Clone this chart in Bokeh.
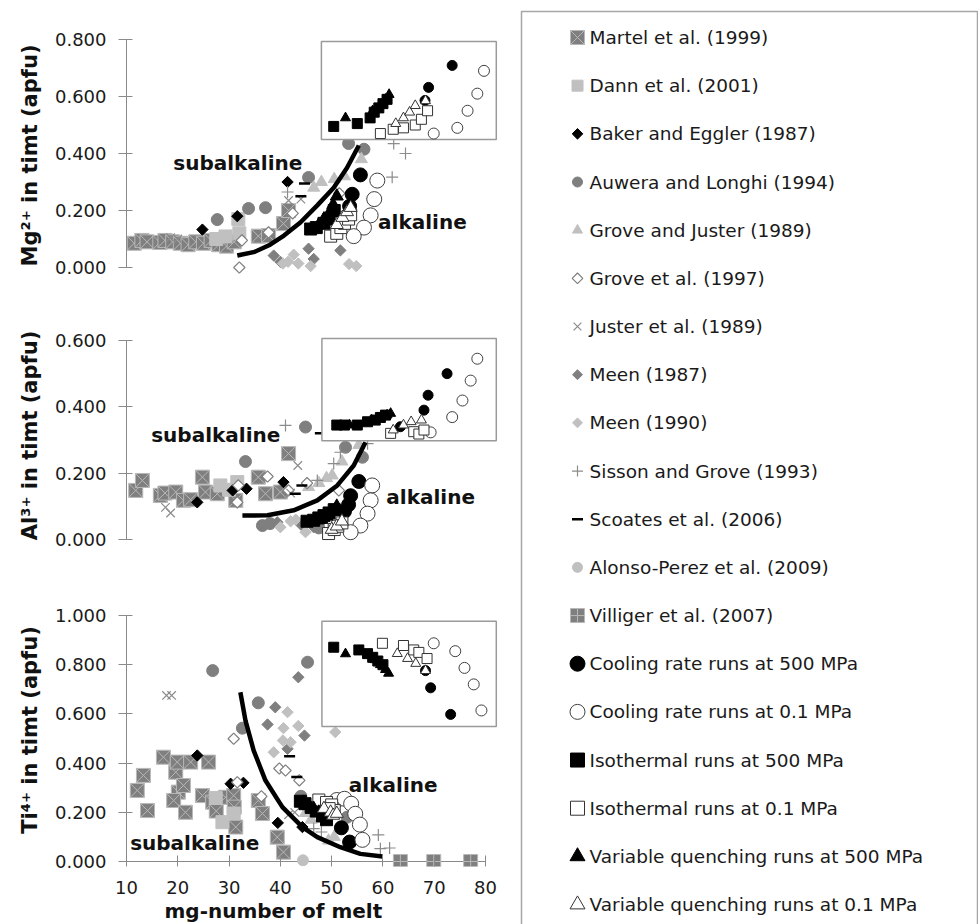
import numpy as np
from bokeh.plotting import figure
from bokeh.models import Range1d, FixedTicker, NumeralTickFormatter, Title
from bokeh.layouts import row, column
from bokeh.embed import file_html
from bokeh.resources import INLINE
from bokeh.core.properties import value

FONT = "DejaVu Sans"

# ---------------- ticks / labels ----------------
X_TICKS = [10, 20, 30, 40, 50, 60, 70, 80]
MG_TICKS = [0.0, 0.2, 0.4, 0.6, 0.8]
AL_TICKS = [0.0, 0.2, 0.4, 0.6]
TI_TICKS = [0.0, 0.2, 0.4, 0.6, 0.8, 1.0]
X_LABEL = "mg-number of melt"

SERIES = ["martel", "dann", "baker", "auwera", "grovej", "grove97", "juster",
          "meen87", "meen90", "sisson", "scoates", "alonso", "villiger",
          "cool500", "cool01", "iso500", "iso01", "var500", "var01"]
LEGEND_LABELS = ["Martel et al. (1999)", "Dann et al. (2001)", "Baker and Eggler (1987)",
                 "Auwera and Longhi (1994)", "Grove and Juster (1989)", "Grove et al. (1997)",
                 "Juster et al. (1989)", "Meen (1987)", "Meen (1990)", "Sisson and Grove (1993)",
                 "Scoates et al. (2006)", "Alonso-Perez et al. (2009)", "Villiger et al. (2007)",
                 "Cooling rate runs at 500 MPa", "Cooling rate runs at 0.1 MPa",
                 "Isothermal runs at 500 MPa", "Isothermal runs at 0.1 MPa",
                 "Variable quenching runs at 500 MPa", "Variable quenching runs at 0.1 MPa"]

# ---------------- panel 1 : Mg ----------------
mg_martel_x = [11.5, 13.0, 14.0, 16.5, 17.5, 19.0, 20.5, 22.0, 23.5, 25.0, 26.5, 28.0, 29.5, 31.0, 35.7, 37.7, 40.6, 41.6]
mg_martel_y = [0.085, 0.095, 0.09, 0.088, 0.095, 0.09, 0.085, 0.08, 0.09, 0.085, 0.095, 0.08, 0.075, 0.09, 0.11, 0.112, 0.154, 0.2]
mg_dann_x = [27.5, 29.3, 31.8, 32.0]
mg_dann_y = [0.1, 0.109, 0.17, 0.12]
mg_baker_x = [24.8, 31.6, 41.4]
mg_baker_y = [0.133, 0.18, 0.30]
mg_auwera_x = [27.7, 33.8, 37.1, 45.5, 53.3, 56.3]
mg_auwera_y = [0.168, 0.207, 0.21, 0.316, 0.435, 0.415]
mg_grovej_x = [46.5, 48.0, 50.5, 52.5, 55.8]
mg_grovej_y = [0.28, 0.30, 0.31, 0.32, 0.38]
mg_grove97_x = [32.0, 32.5, 37.7, 42.4, 51.5]
mg_grove97_y = [0.0, 0.095, 0.123, 0.19, 0.26]
mg_juster_x = [18.6, 20.0, 41.6, 44.0]
mg_juster_y = [0.105, 0.10, 0.235, 0.24]
mg_meen87_x = [38.7, 40.0, 45.5, 46.5, 51.7]
mg_meen87_y = [0.042, 0.02, 0.066, 0.03, 0.06]
mg_meen90_x = [40.5, 41.5, 42.6, 43.5, 45.9, 53.4, 54.8]
mg_meen90_y = [0.014, 0.02, 0.045, 0.014, 0.005, 0.012, 0.005]
mg_sisson_x = [41.4, 62.1, 64.4, 61.8]
mg_sisson_y = [0.265, 0.435, 0.40, 0.317]
mg_scoates_x = [44.7, 44.0]
mg_scoates_y = [0.295, 0.25]
mg_cool500_x = [55.6, 54.0, 53.5]
mg_cool500_y = [0.325, 0.257, 0.215]
mg_cool01_x = [58.9, 58.3, 57.6, 56.3, 54.3]
mg_cool01_y = [0.305, 0.24, 0.183, 0.14, 0.11]
mg_iso500_x = [45.9, 47.0, 48.5, 49.5, 50.5]
mg_iso500_y = [0.135, 0.14, 0.155, 0.17, 0.2]
mg_iso01_x = [49.8, 51.0, 51.8, 52.5, 53.3, 53.7]
mg_iso01_y = [0.11, 0.12, 0.14, 0.155, 0.17, 0.185]
mg_var500_x = [47.5, 48.5, 49.5, 50.3, 51.0]
mg_var500_y = [0.15, 0.17, 0.19, 0.22, 0.25]
mg_var01_x = [51.0, 52.1, 53.0, 53.7]
mg_var01_y = [0.15, 0.175, 0.195, 0.21]
mg_curve_x = [31.6, 35.0, 38.0, 40.7, 43.9, 47.2, 50.4, 53.0, 55.3]
mg_curve_y = [0.042, 0.055, 0.08, 0.112, 0.158, 0.218, 0.28, 0.35, 0.428]
# inset (experimental runs)
mg_in_cool500_x = [68.2, 68.9, 73.5]
mg_in_cool500_y = [0.586, 0.632, 0.709]
mg_in_cool01_x = [69.9, 74.5, 76.5, 78.4, 79.7]
mg_in_cool01_y = [0.47, 0.49, 0.55, 0.61, 0.69]
mg_in_iso500_x = [50.4, 55.0, 57.5, 58.3, 59.2, 60.0, 60.8]
mg_in_iso500_y = [0.495, 0.505, 0.525, 0.545, 0.56, 0.575, 0.59]
mg_in_iso01_x = [59.5, 62.0, 64.0, 66.3, 67.5, 68.7]
mg_in_iso01_y = [0.47, 0.485, 0.49, 0.50, 0.52, 0.55]
mg_in_var500_x = [52.7, 58.0, 59.5, 60.5, 61.2]
mg_in_var500_y = [0.525, 0.55, 0.57, 0.59, 0.607]
mg_in_var01_x = [62.5, 64.0, 65.2, 66.3, 68.3]
mg_in_var01_y = [0.505, 0.525, 0.545, 0.568, 0.585]
mg_text = ["subalkaline", "alkaline"]
mg_text_x = [31.7, 67.7]
mg_text_y = [0.365, 0.159]

# ---------------- panel 2 : Al ----------------
al_martel_x = [11.8, 13.1, 16.6, 17.5, 19.6, 21.1, 22.5, 24.8, 25.4, 27.7, 31.3, 35.7, 37.1, 40.0, 41.6]
al_martel_y = [0.148, 0.178, 0.133, 0.14, 0.143, 0.118, 0.12, 0.188, 0.143, 0.138, 0.118, 0.188, 0.138, 0.143, 0.259]
al_dann_x = [28.3, 31.6, 30.0]
al_dann_y = [0.163, 0.173, 0.15]
al_baker_x = [23.8, 30.7, 33.4, 40.6]
al_baker_y = [0.112, 0.148, 0.153, 0.173]
al_auwera_x = [33.2, 44.9, 52.7, 56.0, 36.5, 38.0, 47.5]
al_auwera_y = [0.235, 0.339, 0.278, 0.248, 0.042, 0.048, 0.035]
al_grovej_x = [45.5, 47.5, 49.0, 50.1, 52.0, 55.3]
al_grovej_y = [0.158, 0.17, 0.185, 0.193, 0.235, 0.285]
al_grove97_x = [31.6, 31.8, 37.5, 41.6, 45.2, 51.4]
al_grove97_y = [0.112, 0.163, 0.19, 0.148, 0.17, 0.148]
al_juster_x = [17.6, 18.6, 43.4, 42.0]
al_juster_y = [0.097, 0.08, 0.223, 0.14]
al_meen87_x = [39.4, 44.0, 46.5]
al_meen87_y = [0.052, 0.045, 0.037]
al_meen90_x = [40.0, 42.0, 43.0, 44.9]
al_meen90_y = [0.037, 0.055, 0.06, 0.022]
al_sisson_x = [41.0, 47.2, 50.4, 51.7, 57.0]
al_sisson_y = [0.344, 0.178, 0.229, 0.263, 0.289]
al_scoates_x = [44.2, 42.9, 47.8]
al_scoates_y = [0.163, 0.138, 0.32]
al_cool500_x = [55.3, 53.7, 53.3, 52.5]
al_cool500_y = [0.175, 0.132, 0.105, 0.085]
al_cool01_x = [57.9, 57.6, 57.0, 55.6, 53.7]
al_cool01_y = [0.163, 0.118, 0.078, 0.042, 0.022]
al_iso500_x = [45.2, 46.5, 47.5, 48.5, 49.5, 50.5]
al_iso500_y = [0.055, 0.058, 0.065, 0.072, 0.08, 0.09]
al_iso01_x = [49.4, 50.5, 51.2, 52.0]
al_iso01_y = [0.018, 0.03, 0.04, 0.05]
al_var500_x = [48.0, 49.0, 50.0, 51.0]
al_var500_y = [0.06, 0.07, 0.085, 0.10]
al_var01_x = [50.0, 51.0, 52.0]
al_var01_y = [0.03, 0.04, 0.055]
al_curve_x = [32.6, 37.5, 42.6, 47.2, 51.1, 54.3, 56.6]
al_curve_y = [0.072, 0.073, 0.088, 0.118, 0.163, 0.223, 0.293]
al_in_cool500_x = [63.4, 68.0, 68.8, 72.5]
al_in_cool500_y = [0.34, 0.39, 0.435, 0.50]
al_in_cool01_x = [69.3, 73.5, 75.5, 77.1, 78.4]
al_in_cool01_y = [0.323, 0.369, 0.419, 0.479, 0.545]
al_in_iso500_x = [51.0, 52.5, 55.0, 57.0, 58.5, 59.5, 60.5]
al_in_iso500_y = [0.345, 0.345, 0.345, 0.355, 0.36, 0.368, 0.375]
al_in_iso01_x = [61.5, 66.0, 67.0, 68.0]
al_in_iso01_y = [0.32, 0.325, 0.318, 0.33]
al_in_var500_x = [53.5, 57.8, 59.3, 60.8, 61.5]
al_in_var500_y = [0.345, 0.36, 0.367, 0.375, 0.38]
al_in_var01_x = [62.0, 64.0, 65.5, 67.5]
al_in_var01_y = [0.33, 0.345, 0.355, 0.36]
al_text = ["subalkaline", "alkaline"]
al_text_x = [27.4, 69.3]
al_text_y = [0.314, 0.128]

# ---------------- panel 3 : Ti ----------------
ti_martel_x = [12.1, 13.3, 14.1, 17.2, 19.6, 19.9, 20.1, 19.2, 21.1, 21.5, 22.5, 24.8, 26.0, 26.8, 27.5, 29.3, 30.9, 31.0, 31.3, 35.7, 36.5, 39.4, 40.6]
ti_martel_y = [0.289, 0.35, 0.207, 0.424, 0.363, 0.404, 0.282, 0.248, 0.309, 0.2, 0.404, 0.268, 0.404, 0.241, 0.205, 0.261, 0.268, 0.221, 0.14, 0.248, 0.195, 0.099, 0.038]
ti_dann_x = [27.4, 28.7, 30.9]
ti_dann_y = [0.258, 0.16, 0.195]
ti_baker_x = [23.8, 30.3, 32.8, 39.5, 44.3]
ti_baker_y = [0.431, 0.316, 0.32, 0.157, 0.14]
ti_auwera_x = [26.8, 32.6, 35.7, 45.3, 44.0, 53.0]
ti_auwera_y = [0.776, 0.542, 0.645, 0.81, 0.265, 0.18]
ti_grovej_x = [44.9, 46.0, 49.4, 50.5]
ti_grovej_y = [0.197, 0.17, 0.085, 0.10]
ti_grove97_x = [30.9, 31.6, 36.3, 39.8, 41.0, 43.7]
ti_grove97_y = [0.499, 0.322, 0.265, 0.378, 0.37, 0.33]
ti_juster_x = [17.8, 18.8, 41.6, 42.8]
ti_juster_y = [0.675, 0.675, 0.19, 0.20]
ti_meen87_x = [37.5, 39.0, 41.4, 43.5, 44.7]
ti_meen87_y = [0.557, 0.627, 0.458, 0.749, 0.512]
ti_meen90_x = [38.7, 40.5, 40.6, 41.4, 42.0, 43.5, 50.7]
ti_meen90_y = [0.444, 0.492, 0.542, 0.607, 0.485, 0.551, 0.526]
ti_sisson_x = [46.5, 59.1, 59.5, 61.3, 48.0]
ti_sisson_y = [0.134, 0.108, 0.052, 0.055, 0.12]
ti_scoates_x = [41.8, 43.2]
ti_scoates_y = [0.428, 0.343]
ti_alonso_x = [44.4]
ti_alonso_y = [0.005]
ti_villiger_x = [63.4, 69.9, 77.1]
ti_villiger_y = [0.0, 0.0, 0.0]
ti_cool500_x = [51.9, 53.5]
ti_cool500_y = [0.137, 0.079]
ti_cool01_x = [51.0, 52.5, 53.8, 54.6, 55.5, 56.0]
ti_cool01_y = [0.25, 0.255, 0.235, 0.194, 0.15, 0.088]
ti_iso500_x = [43.9, 44.8, 46.0, 47.0, 48.2, 49.0]
ti_iso500_y = [0.245, 0.235, 0.22, 0.205, 0.185, 0.17]
ti_iso01_x = [47.5, 49.0, 50.0, 50.5, 49.5]
ti_iso01_y = [0.25, 0.24, 0.23, 0.207, 0.215]
ti_var500_x = [44.5, 45.5, 46.5, 47.5, 48.5]
ti_var500_y = [0.24, 0.228, 0.215, 0.20, 0.188]
ti_var01_x = [48.5, 49.8, 50.3, 51.0]
ti_var01_y = [0.215, 0.20, 0.187, 0.195]
ti_curve_x = [32.2, 33.2, 34.8, 37.1, 40.4, 44.3, 47.2, 51.7, 55.6, 59.9]
ti_curve_y = [0.688, 0.573, 0.451, 0.329, 0.221, 0.14, 0.099, 0.058, 0.031, 0.02]
ti_in_cool500_x = [68.3, 69.3, 73.2]
ti_in_cool500_y = [0.776, 0.706, 0.598]
ti_in_cool01_x = [69.9, 74.1, 75.9, 77.7, 79.2]
ti_in_cool01_y = [0.887, 0.855, 0.787, 0.72, 0.614]
ti_in_iso500_x = [50.4, 55.3, 57.0, 58.0, 59.0, 60.0]
ti_in_iso500_y = [0.871, 0.86, 0.845, 0.83, 0.815, 0.80]
ti_in_iso01_x = [59.9, 64.0, 66.0, 67.0, 68.6]
ti_in_iso01_y = [0.887, 0.878, 0.86, 0.85, 0.825]
ti_in_var500_x = [52.7, 58.5, 59.5, 60.5, 61.1]
ti_in_var500_y = [0.844, 0.82, 0.80, 0.78, 0.765]
ti_in_var01_x = [62.8, 64.8, 66.4, 68.3]
ti_in_var01_y = [0.845, 0.825, 0.805, 0.776]
ti_text = ["subalkaline", "alkaline"]
ti_text_x = [23.3, 62.0]
ti_text_y = [0.074, 0.309]

# inset frames (left, right, bottom, top) in panel data units
MG_INSET = (48.0, 82.1, 0.449, 0.793)
AL_INSET = (48.1, 82.1, 0.298, 0.606)
TI_INSET = (48.1, 82.1, 0.549, 0.977)

# ---------------- styles ----------------
D = np.pi / 4
DG, LG, AX = "#7f7f7f", "#c0c0c0", "#8a8a8a"
STYLE = {
    "martel":   dict(marker="square_x", size=14, fill=DG, line="#b8b8b8", lw=1, angle=0, leg=14),
    "dann":     dict(marker="square", size=13, fill=LG, line=LG, lw=1, angle=0, leg=11),
    "baker":    dict(marker="square", size=8, fill="black", line="black", lw=1, angle=D, leg=7.5),
    "auwera":   dict(marker="circle", size=12, fill=DG, line=DG, lw=1, angle=0, leg=10),
    "grovej":   dict(marker="triangle", size=12, fill=LG, line=LG, lw=1, angle=0, leg=10),
    "grove97":  dict(marker="square", size=8, fill="white", line=DG, lw=1.2, angle=D, leg=7.5),
    "juster":   dict(marker="x", size=12, fill=None, line="#8c8c8c", lw=1.2, angle=0, leg=11),
    "meen87":   dict(marker="square", size=8, fill=DG, line=DG, lw=1, angle=D, leg=7),
    "meen90":   dict(marker="square", size=8, fill=LG, line=LG, lw=1, angle=D, leg=7),
    "sisson":   dict(marker="cross", size=12, fill=None, line="#8c8c8c", lw=1.2, angle=0, leg=11),
    "scoates":  dict(marker="dash", size=11, fill=None, line="black", lw=2.5, angle=0, leg=11),
    "alonso":   dict(marker="circle", size=11, fill=LG, line=LG, lw=1, angle=0, leg=10),
    "villiger": dict(marker="square_cross", size=14, fill=DG, line="#b8b8b8", lw=1, angle=0, leg=14),
    "cool500":  dict(marker="circle", size=14, fill="black", line="black", lw=1, angle=0, leg=15),
    "cool01":   dict(marker="circle", size=15, fill="white", line="#404040", lw=1, angle=0, leg=15),
    "iso500":   dict(marker="square", size=12, fill="black", line="black", lw=1, angle=0, leg=14),
    "iso01":    dict(marker="square", size=12, fill="white", line="#333333", lw=1, angle=0, leg=14),
    "var500":   dict(marker="triangle", size=13, fill="black", line="black", lw=1, angle=0, leg=15),
    "var01":    dict(marker="triangle", size=13, fill="white", line="#333333", lw=1, angle=0, leg=15),
}
INSET_SIZE = 10


def draw(p, key, xs, ys, size=None):
    if not xs:
        return
    s = STYLE[key]
    p.scatter(x=xs, y=ys, marker=s["marker"], size=size or s["size"], angle=s["angle"],
              fill_color=s["fill"], line_color=s["line"], line_width=s["lw"])


def make_panel(height, b_top, b_bot, y_start, y_end, ticks, label, show_x):
    p = figure(width=510, height=height, x_range=Range1d(10, 82.92),
               y_range=Range1d(y_start, y_end), toolbar_location=None,
               output_backend="svg", x_axis_location="below" if show_x else None,
               y_axis_location="left", min_border_left=126, min_border_right=10,
               min_border_top=b_top, min_border_bottom=b_bot)
    p.grid.visible = False
    p.outline_line_color = None
    ax = p.yaxis[0]
    ax.ticker = FixedTicker(ticks=ticks)
    ax.formatter = NumeralTickFormatter(format="0.000")
    ax.bounds = (ticks[0], ticks[-1])
    ax.axis_line_color = AX
    ax.major_tick_line_color = AX
    ax.minor_tick_line_color = None
    ax.major_tick_in = 6
    ax.major_tick_out = 8
    ax.major_label_standoff = 12
    ax.major_label_text_font = FONT
    ax.major_label_text_font_size = "18px"
    ax.major_label_text_color = "#1a1a1a"
    ax.axis_label = label
    ax.axis_label_text_font = FONT
    ax.axis_label_text_font_style = "bold"
    ax.axis_label_text_font_size = "21px"
    ax.axis_label_text_color = "#111111"
    ax.axis_label_standoff = 10
    return p


def fill_panel(p, pre, inset, texts, tx, ty):
    g = globals()
    for key in SERIES:
        xs = g.get(f"{pre}_{key}_x", [])
        ys = g.get(f"{pre}_{key}_y", [])
        draw(p, key, xs, ys)
    p.line(g[f"{pre}_curve_x"], g[f"{pre}_curve_y"], line_color="black", line_width=4.5)
    l, r, b, t = inset
    p.quad(left=[l], right=[r], bottom=[b], top=[t], fill_color="white",
           line_color="#9a9a9a", line_width=1.5)
    for key in ["cool500", "cool01", "iso500", "iso01", "var500", "var01"]:
        draw(p, key, g[f"{pre}_in_{key}_x"], g[f"{pre}_in_{key}_y"],
             size=INSET_SIZE + (1 if key == "cool01" else 0))
    p.text(x=tx, y=ty, text=texts, text_font=value(FONT), text_font_style="bold",
           text_font_size="20px", text_align="center", text_baseline="middle",
           text_color="#111111")


p1 = make_panel(290, 30, 10, -0.0456, 0.8316, MG_TICKS, "Mg²⁺ in timt (apfu)", False)
fill_panel(p1, "mg", MG_INSET, mg_text, mg_text_x, mg_text_y)

p2 = make_panel(285, 20, 15, -0.0633, 0.6904, AL_TICKS, "Al³⁺ in timt (apfu)", False)
fill_panel(p2, "al", AL_INSET, al_text, al_text_x, al_text_y)

p3 = make_panel(349, 18, 58, -0.0203, 1.0894, TI_TICKS, "Ti⁴⁺ in timt (apfu)", True)
p3.segment(x0=[X_TICKS[0]], y0=[0], x1=[X_TICKS[-1]], y1=[0], line_color=AX, line_width=1)
fill_panel(p3, "ti", TI_INSET, ti_text, ti_text_x, ti_text_y)
xa = p3.xaxis[0]
xa.ticker = FixedTicker(ticks=X_TICKS)
xa.bounds = (X_TICKS[0], X_TICKS[-1])
xa.axis_line_color = None
xa.major_tick_line_color = AX
xa.minor_tick_line_color = None
xa.major_tick_in = 11
xa.major_tick_out = 0
xa.major_label_standoff = 14
xa.major_label_text_font = FONT
xa.major_label_text_font_size = "18px"
xa.major_label_text_color = "#1a1a1a"
p3.add_layout(Title(text=X_LABEL, align="left", offset=38, standoff=0,
                    text_font=FONT, text_font_style="bold", text_font_size="20px",
                    text_color="#111111"), "below")

# ---------------- legend panel ----------------
p4 = figure(width=468, height=924, x_range=Range1d(0, 468), y_range=Range1d(18.414, -0.768),
            toolbar_location=None, output_backend="svg", x_axis_location=None,
            y_axis_location=None, min_border=0)
p4.grid.visible = False
p4.outline_line_color = None
p4.quad(left=[11], right=[467], top=[-0.54], bottom=[30], fill_color=None,
        line_color="#a6a6a6", line_width=1.5)
for i, key in enumerate(SERIES):
    s = STYLE[key]
    p4.scatter(x=[67], y=[i], marker=s["marker"], size=s["leg"], angle=s["angle"],
               fill_color=s["fill"], line_color=s["line"], line_width=s["lw"])
p4.text(x=[79] * len(LEGEND_LABELS), y=list(range(len(LEGEND_LABELS))), text=LEGEND_LABELS,
        text_font=value(FONT), text_font_size="18.5px", text_align="left",
        text_baseline="middle", text_color="#1a1a1a")

layout = row(column(p1, p2, p3), p4)
open("out.html", "w").write(file_html(layout, INLINE))
